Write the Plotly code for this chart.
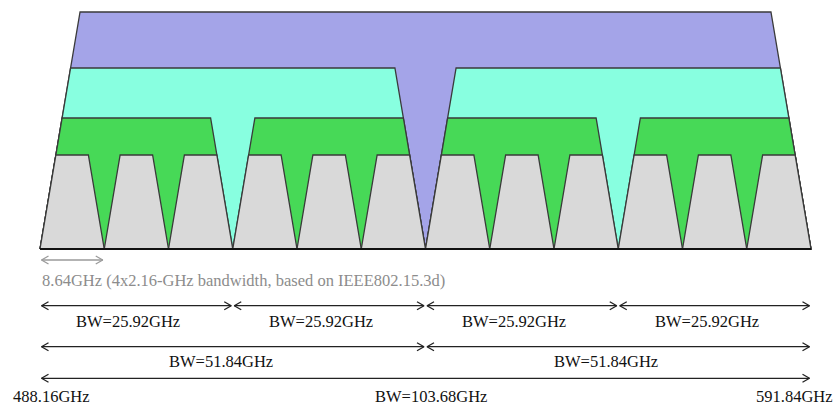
import plotly.graph_objects as go

# ---- data ----
f_start = 488.16          # GHz
f_stop = 591.84           # GHz
ch_bw = 8.64              # GHz, single channel
n_channels = 12
layer_names = ["103.68GHz", "51.84GHz", "25.92GHz", "8.64GHz"]
layer_bw = [103.68, 51.84, 25.92, 8.64]            # GHz per block
layer_height = [237, 181, 131, 94]                  # relative heights
layer_colors = ["#A4A4E8", "#88FFE0", "#47D957", "#D9D9D9"]

bw_rows = [25.92, 51.84, 103.68]
bw_labels = ["BW=25.92GHz", "BW=51.84GHz", "BW=103.68GHz"]
note_text = "8.64GHz (4x2.16-GHz bandwidth, based on IEEE802.15.3d)"
edge_labels = ["488.16GHz", "591.84GHz"]

# ---- geometry / style ----
PX_PER_GHZ = 771 / (f_stop - f_start)
SLOPE = 0.169 / PX_PER_GHZ        # GHz of inset per unit height
FONT = "Liberation Serif, Times New Roman, serif"

fig = go.Figure()

def trap(a, b, h):
    s = SLOPE * h
    return [a, a + s, b - s, b, a], [0, h, h, 0, 0]

for bw, h, col in zip(layer_bw, layer_height, layer_colors):
    n = int(round((f_stop - f_start) / bw))
    for i in range(n):
        a = f_start + i * bw
        xs, ys = trap(a, a + bw, h)
        fig.add_trace(go.Scatter(x=xs, y=ys, mode="lines", fill="toself",
                                 fillcolor=col, line=dict(color="#3a3a3a", width=1.3),
                                 hoverinfo="skip", showlegend=False))

# baseline
fig.add_trace(go.Scatter(x=[f_start, f_stop], y=[0, 0], mode="lines",
                         line=dict(color="#111", width=2), hoverinfo="skip", showlegend=False))

def arrow(a, b, y, color, width=1.3, gap_px=1.5):
    L = 7 / PX_PER_GHZ
    H = 4
    g = gap_px / PX_PER_GHZ
    a2, b2 = a + g, b - g
    xs = [a2, b2, None, a2 + L, a2, a2 + L, None, b2 - L, b2, b2 - L]
    ys = [y, y, None, y + H, y, y - H, None, y + H, y, y - H]
    fig.add_trace(go.Scatter(x=xs, y=ys, mode="lines",
                             line=dict(color=color, width=width),
                             hoverinfo="skip", showlegend=False))

# single channel note
arrow(f_start, f_start + ch_bw, -11, "#9a9a9a")
fig.add_annotation(x=f_start, y=-31, text=note_text, showarrow=False, xanchor="left",
                   yanchor="middle", font=dict(family=FONT, size=16.5, color="#8c8c8c"))

row_y = [-56.7, -97.7, -129.3]
label_y = [-72.7, -112.7, -147.5]
label_off_px = [-8, -12, 5]
for bw, lab, ya, yl, off in zip(bw_rows, bw_labels, row_y, label_y, label_off_px):
    n = int(round((f_stop - f_start) / bw))
    for i in range(n):
        a = f_start + i * bw
        b = a + bw
        arrow(a, b, ya, "#222222")
        fig.add_annotation(x=(a + b) / 2 + off / PX_PER_GHZ, y=yl, text=lab, showarrow=False,
                           xanchor="center", yanchor="middle",
                           font=dict(family=FONT, size=16.5, color="#111"))

fig.add_annotation(x=f_start - 29 / PX_PER_GHZ, y=-147.5, text=edge_labels[0], showarrow=False,
                   xanchor="left", yanchor="middle", font=dict(family=FONT, size=16.5, color="#111"))
fig.add_annotation(x=f_stop + 24 / PX_PER_GHZ, y=-147.5, text=edge_labels[1], showarrow=False,
                   xanchor="right", yanchor="middle", font=dict(family=FONT, size=16.5, color="#111"))

x0 = f_start - 40 / PX_PER_GHZ
x1 = f_start + 796 / PX_PER_GHZ
fig.update_layout(
    width=836, height=407, margin=dict(l=0, r=0, t=0, b=0),
    paper_bgcolor="white", plot_bgcolor="white",
    xaxis=dict(range=[x0, x1], visible=False, fixedrange=True),
    yaxis=dict(range=[-158, 249], visible=False, fixedrange=True),
    showlegend=False,
)
fig.write_html("out.html", config={"displayModeBar": False},
               post_script="document.body.style.margin='0';document.body.style.overflow='hidden';")
